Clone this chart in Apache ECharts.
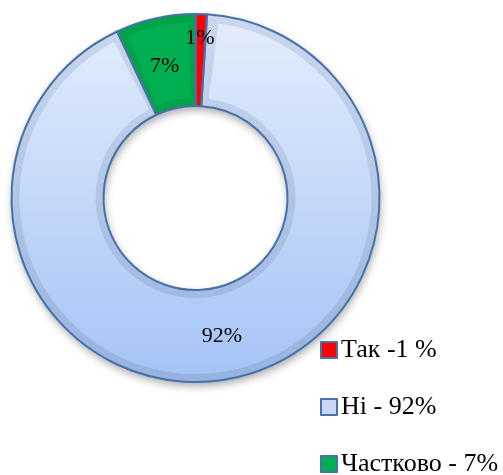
<!DOCTYPE html>
<html>
<head>
<meta charset="utf-8">
<script src="https://cdn.jsdelivr.net/npm/echarts@6/dist/echarts.min.js"></script>
<style>
  html, body { margin: 0; padding: 0; background: #fff; }
  #chart { width: 503px; height: 475px; }
</style>
</head>
<body>
<div id="chart"></div>
<script>
const categories = ['Так -1 %', 'Ні - 92%', 'Частково - 7%'];
const values = [1, 92, 7];

const font = "'Times New Roman', 'Liberation Serif', serif";
const outline = '#4672aa';

// face colours (Excel-like bevel: darker rim + lighter face)
const faceColors = [
    '#ff0000',
    { type: 'linear', x: 0, y: 0, x2: 0, y2: 1, colorStops: [
        { offset: 0, color: '#e2ecfc' }, { offset: 1, color: '#a5c4f6' }] },
    '#00b050'
];
const rimColors = [
    '#ff0000',
    { type: 'linear', x: 0, y: 0, x2: 0, y2: 1, colorStops: [
        { offset: 0, color: '#cbd8ec' }, { offset: 1, color: '#96b2df' }] },
    '#00a347'
];

const center = [195.5, 198];
const chart = echarts.init(document.getElementById('chart'));

const base = {
    type: 'pie',
    center: center,
    startAngle: 90,
    clockwise: true,
    silent: true,
    animation: false,
    label: { show: false },
    labelLine: { show: false },
    emphasis: { disabled: true }
};

chart.setOption({
    backgroundColor: '#fff',
    legend: {
        orient: 'vertical',
        left: 320,
        top: 337,
        height: 200,
        padding: 0,
        itemWidth: 16,
        itemHeight: 16,
        itemGap: 31,
        selectedMode: false,
        icon: 'rect',
        textStyle: { fontFamily: font, fontSize: 26, color: '#000', padding: [0, 0, 0, -1] },
        data: categories.map((c, i) => ({
            name: c,
            itemStyle: {
                color: i === 1 ? '#c9d8f2' : faceColors[i],
                borderColor: outline,
                borderWidth: 2
            }
        }))
    },
    series: [
        // drop shadow under the ring
        Object.assign({}, base, {
            radius: [92, 184],
            itemStyle: {
                color: '#fff',
                shadowColor: 'rgba(0,0,0,0.35)',
                shadowBlur: 8,
                shadowOffsetX: 1,
                shadowOffsetY: 4
            },
            data: [{ value: 1, name: '' }]
        }),
        // rim
        Object.assign({}, base, {
            radius: [92, 184],
            data: categories.map((c, i) => ({
                name: c, value: values[i], itemStyle: { color: rimColors[i] }
            }))
        }),
        // face
        Object.assign({}, base, {
            radius: [100, 176],
            padAngle: 5,
            data: categories.map((c, i) => ({
                name: c, value: values[i], itemStyle: { color: faceColors[i] }
            }))
        }),
        // outline + labels
        Object.assign({}, base, {
            radius: [92, 184],
            avoidLabelOverlap: false,
            itemStyle: { color: 'rgba(0,0,0,0)', borderColor: outline, borderWidth: 2 },
            label: {
                show: true,
                position: 'inside',
                formatter: '{d}%',
                fontFamily: font,
                fontSize: 22,
                color: '#000'
            },
            labelLayout: function (params) {
                if (params.dataIndex === 0) return { dy: -19 };
                if (params.dataIndex === 2) return { dy: 6 };
            },
            data: categories.map((c, i) => ({ name: c, value: values[i] }))
        })
    ]
});
</script>
</body>
</html>
